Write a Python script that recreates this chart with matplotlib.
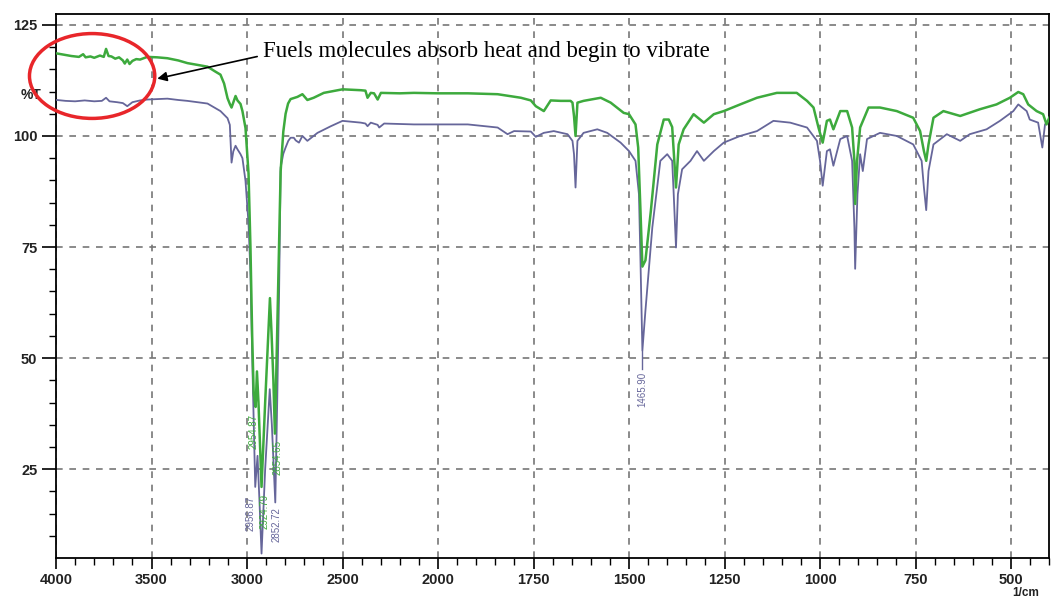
import numpy as np
import matplotlib
matplotlib.use("Agg")
import matplotlib.pyplot as plt
from matplotlib.patches import Ellipse
from matplotlib.ticker import FixedLocator

# FTIR spectra: wavenumber (1/cm) and %T
green_wn = [3999, 3960, 3920, 3880, 3858, 3845, 3820, 3800, 3770, 3750, 3738, 3725, 3710, 3690,
            3670, 3650, 3640, 3627, 3615, 3600, 3580, 3560, 3522, 3470, 3417, 3360, 3312, 3260,
            3207, 3170, 3139, 3120, 3102, 3090, 3081, 3072, 3060, 3050, 3034, 3024, 3008, 2992,
            2982, 2973, 2965, 2955, 2948, 2940, 2924, 2905, 2880, 2872, 2862, 2854, 2845, 2835,
            2824, 2810, 2798, 2785, 2772, 2736, 2710, 2684, 2651, 2598, 2500, 2404, 2380, 2369,
            2352, 2335, 2316, 2299, 2200, 2126, 2000, 1922, 1844, 1783, 1757, 1744, 1723, 1705,
            1679, 1653, 1648, 1644, 1640, 1635, 1619, 1574, 1548, 1514, 1500, 1483, 1476, 1470,
            1465, 1457, 1443, 1426, 1409, 1396, 1387, 1377, 1370, 1357, 1331, 1304, 1278, 1252,
            1209, 1165, 1113, 1061, 1034, 1017, 1004, 993, 982, 974, 965, 947, 929, 916, 910,
            908, 903, 895, 873, 843, 799, 756, 738, 728, 722, 716, 703, 677, 633, 582, 538,
            503, 481, 468, 455, 433, 416, 407, 400]
green_t = [118.6, 118.3, 118.0, 117.8, 118.4, 117.7, 117.9, 117.6, 118.1, 117.8, 119.6, 118.0, 117.9, 117.4,
           117.7, 117.0, 116.3, 117.2, 116.2, 116.9, 117.3, 117.2, 117.8, 117.7, 117.5, 117.0, 116.4, 116.0,
           115.6, 114.6, 113.8, 111.8, 108.5, 107.2, 106.4, 107.5, 109.0, 108.0, 107.2, 105.6, 101.8, 91.5,
           75.0, 55.0, 42.0, 39.0, 47.0, 40.0, 21.0, 40.0, 63.5, 56.0, 45.0, 33.0, 50.0, 70.0,
           92.0, 101.0, 105.0, 107.3, 108.3, 108.8, 109.4, 108.1, 108.6, 109.7, 110.5, 110.3, 110.2, 108.6,
           109.7, 109.6, 108.2, 109.7, 109.6, 109.7, 109.6, 109.6, 109.4, 108.6, 108.0, 106.7, 105.6, 108.0,
           107.9, 107.9, 107.5, 104.5, 100.0, 107.5, 107.9, 108.6, 107.5, 105.2, 104.9, 102.6, 97.4, 83.2,
           70.6, 72.0, 83.0, 98.1, 103.7, 103.7, 102.0, 88.4, 98.1, 101.5, 104.9, 103.0, 104.9, 105.6,
           107.1, 108.6, 109.7, 109.7, 107.9, 106.4, 101.9, 98.5, 103.4, 103.7, 101.5, 105.6, 105.6, 101.9, 94.4,
           84.7, 94.4, 101.9, 106.4, 106.4, 105.6, 104.1, 101.1, 96.6, 94.4, 98.1, 104.1, 105.6, 104.5, 106.0, 107.1,
           108.6, 109.9, 109.4, 107.1, 105.6, 104.9, 102.6, 104.1]

purple_wn = [3995, 3950, 3900, 3850, 3800, 3760, 3738, 3720, 3680, 3650, 3627, 3600, 3560,
             3522, 3470, 3417, 3360, 3312, 3260, 3207, 3139, 3102, 3090, 3081, 3072, 3060,
             3050, 3034, 3024, 3008, 2992, 2982, 2970, 2957, 2945, 2935, 2924, 2905, 2881,
             2870, 2852, 2842, 2832, 2824, 2810, 2798, 2784, 2772, 2755, 2745, 2728, 2710,
             2684, 2631, 2561, 2500, 2404, 2380, 2369, 2352, 2316, 2308, 2282, 2126, 2000,
             1922, 1844, 1818, 1801, 1757, 1744, 1723, 1697, 1661, 1648, 1644, 1640, 1635,
             1619, 1583, 1557, 1522, 1500, 1483, 1474, 1470, 1465, 1457, 1439, 1418, 1400,
             1387, 1383, 1377, 1372, 1361, 1339, 1322, 1304, 1278, 1252, 1209, 1165, 1122,
             1078, 1034, 1008, 1000, 993, 982, 974, 965, 947, 929, 916, 910, 908, 902, 895,
             888, 877, 843, 799, 756, 734, 728, 722, 716, 703, 668, 633, 608, 564, 529, 494,
             481, 459, 451, 429, 418, 411, 400]
purple_t = [108.1, 107.9, 107.8, 108.0, 107.8, 107.9, 108.6, 107.8, 107.6, 107.4, 106.7, 107.6, 108.0,
            108.2, 108.3, 108.4, 108.1, 107.9, 107.6, 107.3, 105.6, 104.0, 102.5, 94.0, 96.5, 97.8,
            97.0, 95.9, 95.0, 89.9, 80.2, 69.0, 45.0, 21.0, 28.0, 18.0, 6.0, 25.0, 43.0,
            35.0, 17.5, 40.0, 65.0, 92.9, 96.0, 97.4, 98.9, 99.6, 99.6, 99.0, 98.5, 100.0,
            98.9, 100.7, 102.2, 103.4, 103.0, 102.8, 102.2, 103.0, 102.5, 101.9, 102.8, 102.6, 102.6,
            102.6, 101.9, 100.4, 101.1, 101.0, 99.8, 100.7, 101.1, 100.4, 98.9, 95.9, 88.4, 98.9,
            100.7, 101.5, 100.7, 98.5, 96.6, 94.4, 86.9, 71.9, 51.7, 60.7, 79.4, 94.4, 95.9,
            94.4, 86.9, 74.9, 86.9, 92.5, 94.4, 96.6, 94.4, 96.6, 98.5, 100.0, 101.1, 103.4,
            103.0, 101.9, 98.9, 94.4, 88.8, 96.6, 97.0, 93.3, 99.3, 100.0, 94.4, 79.4, 70.1, 86.9, 95.9,
            92.1, 99.3, 100.7, 100.0, 98.1, 94.4, 88.4, 83.3, 92.1, 98.1, 100.4, 98.9, 100.4, 101.5, 103.4, 105.6,
            107.1, 105.6, 103.7, 103.0, 97.4, 102.6, 103.7]

# peak labels: text, label x, label top, colour key
peak_text = ["2954.87", "2924.79", "2854.65", "2956.87", "2852.72", "1465.90"]
peak_x = [2966, 2908, 2840, 2982, 2845, 1465]
peak_top = [37.5, 19.5, 31.5, 19.0, 16.5, 47.0]
peak_col = ["g", "g", "g", "p", "p", "p"]

x_major = [4000, 3500, 3000, 2500, 2000, 1750, 1500, 1250, 1000, 750, 500]
y_major = [25, 50, 75, 100, 125]

GREEN = "#3daa3d"
PURPLE = "#66669a"


# FTIR style axis: 500 per division above 2000, 250 per division below
def fwd(x):
    x = np.asarray(x, dtype=float)
    return np.where(x >= 2000, x / 500.0, 4 + (x - 2000) / 250.0)


def inv(p):
    p = np.asarray(p, dtype=float)
    return np.where(p >= 4, p * 500.0, 2000 + (p - 4) * 250.0)


fig = plt.figure(figsize=(10.51, 6.0), dpi=100)
ax = fig.add_axes([0.0533, 0.07, 0.945, 0.907])
ax.set_xscale("function", functions=(fwd, inv))

ax.plot(purple_wn, purple_t, color=PURPLE, lw=1.3, zorder=3)
ax.plot(green_wn, green_t, color=GREEN, lw=1.8, zorder=4)

ax.set_xlim(4000, 400)
ax.set_ylim(5, 127.5)

x_minor = [v for v in list(range(3900, 2000, -100)) + list(range(1950, 399, -50)) if v not in x_major]
ax.xaxis.set_major_locator(FixedLocator(x_major))
ax.xaxis.set_minor_locator(FixedLocator(x_minor))
ax.yaxis.set_major_locator(FixedLocator(y_major))
ax.yaxis.set_minor_locator(FixedLocator([v for v in range(10, 127, 5) if v not in y_major]))
ax.set_xticklabels([str(v) for v in x_major])
ax.set_yticklabels([str(v) for v in y_major])

for lab in ax.get_xticklabels() + ax.get_yticklabels():
    lab.set_fontfamily("Liberation Sans")
    lab.set_fontweight("bold")
    lab.set_fontsize(10.5)
    lab.set_color("#222222")

ax.tick_params(axis="both", which="major", direction="out", length=10, width=1.2)
ax.tick_params(axis="both", which="minor", direction="out", length=5, width=1.0)
ax.tick_params(axis="x", which="major", length=8, pad=3)

ax.grid(True, which="major", color="#777777", linestyle=(0, (4, 4)), lw=1.2)
for s in ax.spines.values():
    s.set_linewidth(1.3)

# peak labels
for txt, px, top, c in zip(peak_text, peak_x, peak_top, peak_col):
    col = GREEN if c == "g" else PURPLE
    ax.text(px, top, txt, rotation=90, ha="center", va="top", fontsize=7,
            color=col, fontfamily="Liberation Sans", zorder=5)
ax.plot([1465, 1465], [51.7, 47.5], color=PURPLE, lw=1.0, zorder=3)

ax.text(-0.015, 0.85, "%T", transform=ax.transAxes, ha="right", va="center",
        fontsize=10, fontweight="bold", fontfamily="Liberation Sans", color="#222222")
fig.text(0.976, 0.002, "1/cm", ha="center", va="bottom", fontsize=8.5,
         fontweight="bold", fontfamily="Liberation Sans", color="#222222")

# callout
ell = Ellipse((3811, 113.5), width=656, height=19.1, transform=ax.transData,
              fill=False, edgecolor="#e8262a", lw=2.5, clip_on=False, zorder=6)
ax.add_patch(ell)
ax.annotate("Fuels molecules absorb heat and begin to vibrate",
            xy=(3470, 112.9), xytext=(2918, 119.1),
            fontsize=16.5, fontfamily="Liberation Serif", ha="left", va="center",
            arrowprops=dict(arrowstyle="-|>", color="black", lw=1.2,
                            mutation_scale=14, shrinkA=2, shrinkB=0,
                            relpos=(0.0, 0.3)),
            zorder=7)

fig.savefig("out.png", dpi=100)
